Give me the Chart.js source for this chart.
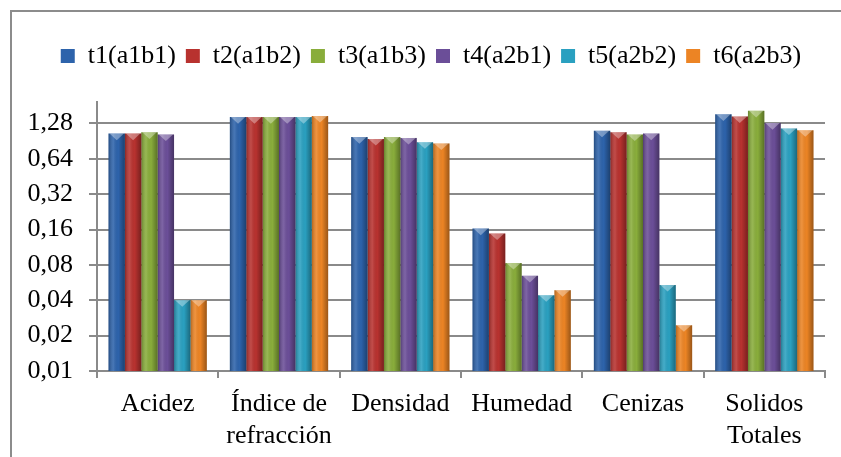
<!DOCTYPE html>
<html>
<head>
<meta charset="utf-8">
<script src="https://cdn.jsdelivr.net/npm/chart.js@4.4.1/dist/chart.umd.min.js"></script>
<style>
  html, body { margin: 0; padding: 0; background: #fff; overflow: hidden; }
  #frame { position: absolute; left: 10px; top: 10px; width: 900px; height: 500px; border: 2px solid #8c8c8c; }
  #wrap { position: absolute; left: 0; top: 0; width: 841px; height: 457px; }
</style>
</head>
<body>
<div id="frame"></div>
<div id="wrap"><canvas id="chart" width="841" height="457"></canvas></div>
<script>
// categorias del eje x
const categorias = ['Acidez', ['Índice de', 'refracción'], 'Densidad', 'Humedad', 'Cenizas', ['Solidos', 'Totales']];

// valores (escala log base 2)
const t1 = [1.05, 1.45, 0.98, 0.163, 1.11, 1.53];
const t2 = [1.05, 1.45, 0.945, 0.148, 1.08, 1.47];
const t3 = [1.076, 1.45, 0.98, 0.083, 1.03, 1.64];
const t4 = [1.03, 1.45, 0.965, 0.0646, 1.05, 1.29];
const t5 = [0.04, 1.45, 0.886, 0.0441, 0.054, 1.16];
const t6 = [0.04, 1.48, 0.866, 0.0488, 0.0245, 1.12];

const nombres = ['t1(a1b1)', 't2(a1b2)', 't3(a1b3)', 't4(a2b1)', 't5(a2b2)', 't6(a2b3)'];
const colores = ['#2d63ab', '#b8322f', '#89ad3b', '#6b4e98', '#2aa0c0', '#ec8424'];

const yTicks = [0.01, 0.02, 0.04, 0.08, 0.16, 0.32, 0.64, 1.28];

Chart.defaults.font.family = "'Liberation Serif', 'Times New Roman', serif";
Chart.defaults.font.size = 26;
Chart.defaults.color = '#000';

// efecto de relieve sobre cada barra
const relieve = {
    id: 'relieve',
    afterDatasetsDraw(chart) {
        const ctx = chart.ctx;
        chart.data.datasets.forEach((ds, i) => {
            const meta = chart.getDatasetMeta(i);
            meta.data.forEach(bar => {
                const l = bar.x - bar.width / 2;
                const r = bar.x + bar.width / 2;
                const g = ctx.createLinearGradient(l, 0, r, 0);
                g.addColorStop(0, 'rgba(0,0,0,0.25)');
                g.addColorStop(0.3, 'rgba(255,255,255,0.12)');
                g.addColorStop(0.6, 'rgba(0,0,0,0)');
                g.addColorStop(1, 'rgba(0,0,0,0.35)');
                ctx.save();
                ctx.fillStyle = g;
                ctx.fillRect(l, bar.y, bar.width, bar.base - bar.y);
                ctx.beginPath();
                ctx.moveTo(l + 1, bar.y);
                ctx.lineTo(r - 1, bar.y);
                ctx.lineTo(bar.x, bar.y + bar.width * 0.4);
                ctx.closePath();
                ctx.fillStyle = 'rgba(255,255,255,0.35)';
                ctx.fill();
                ctx.restore();
            });
        });
    }
};

// leyenda: alto fijo y un poco corrida a la derecha
const ajusteLeyenda = {
    id: 'ajusteLeyenda',
    beforeInit(chart) {
        const leg = chart.legend;
        const fitOrig = leg.fit;
        leg.fit = function () {
            fitOrig.bind(leg)();
            this.height = 69;
        };
        const drawOrig = leg.draw;
        leg.draw = function () {
            chart.ctx.save();
            chart.ctx.translate(6, 0);
            drawOrig.bind(leg)();
            chart.ctx.restore();
        };
    }
};

const series = [t1, t2, t3, t4, t5, t6];

new Chart(document.getElementById('chart'), {
    type: 'bar',
    data: {
        labels: categorias,
        datasets: series.map((s, i) => ({
            label: nombres[i],
            data: s,
            backgroundColor: colores[i],
            categoryPercentage: 0.81,
            barPercentage: 1.0
        }))
    },
    options: {
        responsive: false,
        animation: false,
        layout: { padding: { left: 25, right: 16, top: 33, bottom: 0 } },
        plugins: {
            tooltip: { enabled: false },
            legend: {
                position: 'top',
                labels: { boxWidth: 14, boxHeight: 14, padding: 10 }
            }
        },
        scales: {
            x: {
                grid: { drawOnChartArea: false, drawTicks: true, tickLength: 7, color: '#8a8a8a', lineWidth: 2 },
                border: { color: '#8a8a8a', width: 2 },
                ticks: { maxRotation: 0, autoSkip: false, padding: 11 },
                afterFit(scale) { scale.height = 86; }
            },
            y: {
                type: 'logarithmic',
                min: 0.01,
                max: 1.95,
                grid: { color: '#8a8a8a', lineWidth: 2, tickLength: 8 },
                border: { color: '#8a8a8a', width: 2 },
                ticks: {
                    padding: 16,
                    callback: v => v.toFixed(2).replace('.', ',')
                },
                afterBuildTicks(scale) {
                    scale.ticks = yTicks.map(v => ({ value: v }));
                },
                afterFit(scale) { scale.width = 72; }
            }
        }
    },
    plugins: [relieve, ajusteLeyenda]
});
</script>
</body>
</html>
